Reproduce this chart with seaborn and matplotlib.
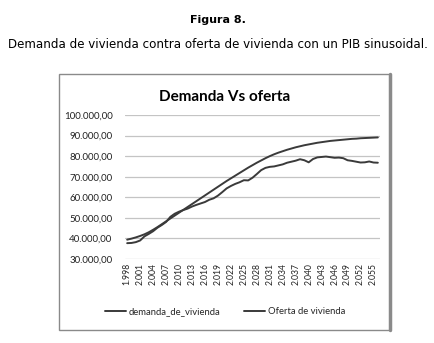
import matplotlib
matplotlib.use("Agg")
import matplotlib.pyplot as plt
import seaborn as sns
import pandas as pd
from matplotlib.patches import Rectangle
from matplotlib.lines import Line2D

years = list(range(1998, 2057))

demanda_de_vivienda = [
    39400, 39900, 40500, 41200, 42000, 43000, 44200, 45500, 46900, 48300,
    49700, 51100, 52500, 53900, 55300, 56700, 58100, 59500, 60900, 62300,
    63700, 65100, 66500, 67900, 69200, 70500, 71800, 73100, 74400, 75600,
    76800, 77900, 79000, 80000, 80900, 81700, 82400, 83100, 83700, 84300,
    84800, 85300, 85700, 86100, 86500, 86800, 87100, 87400, 87600, 87800,
    88000, 88200, 88400, 88500, 88700, 88800, 88900, 89000, 89100,
]

oferta_de_vivienda = [
    37700, 37800, 38200, 39000, 41000, 42200, 43500, 45200, 46500, 48000,
    50500, 52000, 53000, 53800, 54500, 55500, 56300, 57000, 57700, 58800,
    59500, 60800, 62500, 64300, 65500, 66500, 67300, 68300, 68200, 69500,
    71300, 73200, 74300, 74800, 75000, 75500, 76000, 76800, 77300, 77800,
    78500, 78000, 77000, 78600, 79400, 79600, 79800, 79500, 79200, 79300,
    79000, 78000, 77700, 77300, 76900, 77000, 77400, 76900, 76800,
]

tick_years = years[::3]
tick_labels = [f"{y // 1000}.{y % 1000:03d}" for y in tick_years]
y_ticks = list(range(30000, 100001, 10000))
y_labels = [f"{v // 1000}.000,00" for v in y_ticks]

sns.set_style("white")
plt.rcParams["font.family"] = ["Lato", "DejaVu Sans"]

line_color = "#3a3a3a"

fig = plt.figure(figsize=(4.35, 3.43), dpi=100)
ax = fig.add_axes([125 / 435, (343 - 259) / 343, 255 / 435, 144 / 343])

df = pd.DataFrame({"year": years,
                   "demanda": demanda_de_vivienda,
                   "oferta": oferta_de_vivienda})
sns.lineplot(data=df, x="year", y="demanda", ax=ax, color=line_color, lw=1.4)
sns.lineplot(data=df, x="year", y="oferta", ax=ax, color=line_color, lw=1.4)

ax.set_xlim(1997.5, 2056.5)
ax.set_ylim(30000, 100000)
ax.set_yticks(y_ticks)
ax.set_yticklabels(y_labels, fontsize=7, color="#222222")
ax.set_xticks(tick_years)
ax.set_xticklabels(tick_labels, rotation=90, fontsize=6.2, color="#222222")
ax.tick_params(axis="both", length=0, pad=9)
ax.tick_params(axis="x", pad=3)
ax.grid(axis="y", color="#c4c4c4", lw=0.9)
for s in ax.spines.values():
    s.set_visible(False)
ax.set_xlabel("")
ax.set_ylabel("")

fig.text(0.5, 1 - 20 / 343, "Figura 8.", ha="center", va="center",
         fontsize=8, fontweight="bold", family="DejaVu Sans", color="black")
fig.text(0.5, 1 - 44 / 343,
         "Demanda de vivienda contra oferta de vivienda con un PIB sinusoidal.",
         ha="center", va="center", fontsize=8.6, family="DejaVu Sans",
         color="black")
fig.text(225 / 435, 1 - 97 / 343, "Demanda Vs oferta", ha="center",
         va="center", fontsize=11, fontweight="bold", color="black")

# chart frame
fig.add_artist(Rectangle((59 / 435, 13 / 343), 331 / 435, 256 / 343,
                         transform=fig.transFigure, fill=False,
                         edgecolor="#8a8a8a", lw=1.0))
fig.add_artist(Line2D([390 / 435, 390 / 435], [13 / 343, 269 / 343],
                      transform=fig.transFigure, color="#8a8a8a", lw=2.5))

handles = [Line2D([], [], color=line_color, lw=1.4),
           Line2D([], [], color=line_color, lw=1.4)]
fig.legend(handles, ["demanda_de_vivienda", "Oferta de vivienda"],
           loc="center", bbox_to_anchor=(225 / 435, 1 - 312 / 343), ncol=2,
           frameon=False, fontsize=6.8, handlelength=2.2, handletextpad=0.3,
           columnspacing=2.5)

fig.savefig("out.png", dpi=100)
